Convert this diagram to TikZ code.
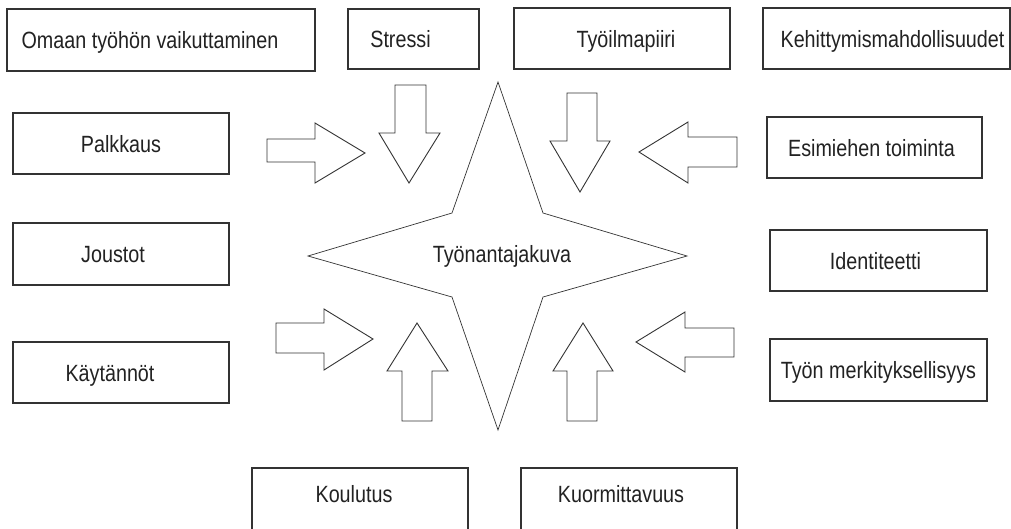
\documentclass[tikz,border=0pt]{standalone}
\usepackage{fontspec}
\setmainfont[FakeStretch=0.84]{Liberation Sans}
\definecolor{ln}{HTML}{333333}
\definecolor{tx}{HTML}{222222}
\begin{document}
\begin{tikzpicture}[x=1pt,y=-1pt,
  box/.style={draw=ln, line width=1.1pt, fill=white, inner sep=0pt,
    font=\fontsize{23.5}{28}\selectfont, text=tx, text height=17pt, text depth=0pt},
  blk/.style={draw=ln, line width=0.9pt, line join=miter},
  starshape/.style={draw=ln, line width=0.7pt, line join=miter},
  lbl/.style={font=\fontsize{23.5}{28}\selectfont, text=tx, inner sep=0pt, text height=16pt, text depth=0pt}]
\useasboundingbox (0,0) rectangle (1011,528);
% boxes
\node[box, minimum width=308pt, minimum height=62pt] (omaan) at (161,40) {Omaan työhön vaikuttaminen\hspace*{22pt}};
\node[box, minimum width=131pt, minimum height=60pt] (stressi) at (413.5,39) {Stressi\hspace*{26pt}};
\node[box, minimum width=216pt, minimum height=61pt] (tyoil) at (622,38.5) {\hspace*{8pt}Työilmapiiri};
\node[box, minimum width=247pt, minimum height=61pt] (kehit) at (886.5,38.5) {\hspace*{12pt}Kehittymismahdollisuudet};
\node[box, minimum width=216pt, minimum height=61pt] (palkka) at (121,143.5) {Palkkaus};
\node[box, minimum width=215pt, minimum height=61pt] (esim) at (874.5,147.5) {Esimiehen toiminta\hspace*{6pt}};
\node[box, minimum width=216pt, minimum height=62pt] (joust) at (121,254) {Joustot\hspace*{16pt}};
\node[box, minimum width=217pt, minimum height=61pt] (ident) at (878.5,260.5) {Identiteetti\hspace*{6pt}};
\node[box, minimum width=216pt, minimum height=61pt] (kayt) at (121,372.5) {Käytännöt\hspace*{22pt}};
\node[box, minimum width=217pt, minimum height=62pt] (merk) at (878.5,370) {Työn merkityksellisyys};
\node[box, minimum width=216pt, minimum height=62pt, text depth=10pt] (koul) at (360,499) {Koulutus\hspace*{12pt}};
\node[box, minimum width=216pt, minimum height=62pt, text depth=10pt] (kuorm) at (629,499) {Kuormittavuus\hspace*{16pt}};
% star
\draw[starshape] (498,82) -- (543,213) -- (687,256) -- (543,297) -- (498,430)
  -- (452,297) -- (308,256) -- (452,213) -- cycle;
\node[lbl] (tak) at (502,254.5) {Työnantajakuva};
% block arrows
\draw[blk] (267,139) -- (315,139) -- (315,123) -- (365,153) -- (315,183) -- (315,162) -- (267,162) -- cycle;
\draw[blk] (395,85) -- (426,85) -- (426,133) -- (440,133) -- (409,183) -- (379,133) -- (395,133) -- cycle;
\draw[blk] (567,93) -- (597,93) -- (597,141) -- (610,141) -- (580,192) -- (550,141) -- (567,141) -- cycle;
\draw[blk] (737,137) -- (688,137) -- (688,122) -- (639,152) -- (688,183) -- (688,167) -- (737,167) -- cycle;
\draw[blk] (276,323) -- (324,323) -- (324,309) -- (373,339) -- (324,370) -- (324,353) -- (276,353) -- cycle;
\draw[blk] (402,421) -- (432,421) -- (432,371) -- (448,371) -- (417,323) -- (387,371) -- (402,371) -- cycle;
\draw[blk] (567,421) -- (597,421) -- (597,371) -- (613,371) -- (583,323) -- (553,371) -- (567,371) -- cycle;
\draw[blk] (734,328) -- (685,328) -- (685,312) -- (636,342) -- (685,372) -- (685,357) -- (734,357) -- cycle;
\end{tikzpicture}
\end{document}
